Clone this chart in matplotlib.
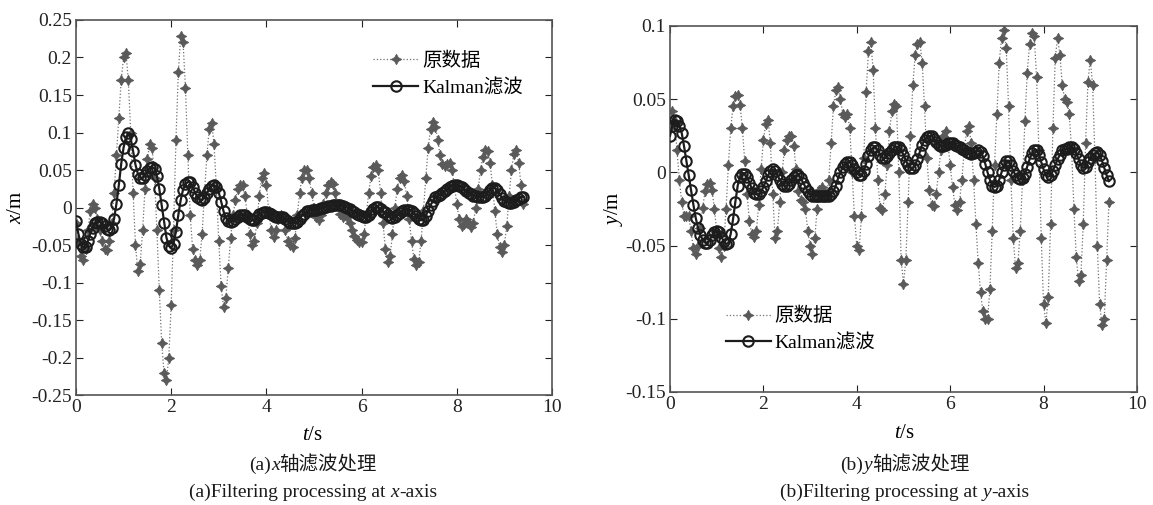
import numpy as np
import matplotlib
matplotlib.use('Agg')
import matplotlib.pyplot as plt
from matplotlib.offsetbox import TextArea, HPacker, AnchoredOffsetbox
from matplotlib.font_manager import FontProperties

plt.rcParams['font.family'] = ['Liberation Serif', 'Noto Sans CJK SC']
plt.rcParams['mathtext.fontset'] = 'custom'
plt.rcParams['mathtext.rm'] = 'Liberation Serif'
plt.rcParams['mathtext.it'] = 'Liberation Serif:italic'
plt.rcParams['axes.unicode_minus'] = False

# ---------------- data (sampled every 0.05 s, t = 0 ... 9.4 s) ----------------
dt = 0.05

x_raw = [
    -0.020, -0.045, -0.065, -0.070, -0.055, -0.030, -0.005, 0.005, 0.000, -0.015,
    -0.030, -0.045, -0.055, -0.057, -0.045, -0.020, 0.020, 0.070, 0.120, 0.170,
    0.200, 0.206, 0.170, 0.100, 0.020, -0.050, -0.085, -0.075, -0.030, 0.025,
    0.065, 0.085, 0.080, 0.040, -0.030, -0.110, -0.180, -0.220, -0.230, -0.200,
    -0.130, -0.030, 0.090, 0.180, 0.228, 0.220, 0.160, 0.070, -0.010, -0.055,
    -0.070, -0.077, -0.070, -0.035, 0.020, 0.070, 0.105, 0.113, 0.085, 0.025,
    -0.045, -0.105, -0.133, -0.120, -0.080, -0.040, -0.010, 0.010, 0.025, 0.030,
    0.030, 0.015, -0.010, -0.035, -0.050, -0.045, -0.020, 0.015, 0.040, 0.046,
    0.030, -0.005, -0.030, -0.039, -0.030, -0.015, -0.010, -0.015, -0.030, -0.045,
    -0.050, -0.052, -0.040, -0.010, 0.020, 0.040, 0.050, 0.050, 0.040, 0.020,
    0.000, -0.012, -0.017, -0.010, 0.005, 0.020, 0.030, 0.034, 0.032, 0.020,
    0.005, -0.008, -0.012, -0.010, -0.012, -0.020, -0.030, -0.038, -0.043, -0.046,
    -0.046, -0.035, -0.010, 0.020, 0.042, 0.054, 0.057, 0.050, 0.020, -0.020,
    -0.055, -0.072, -0.065, -0.035, 0.000, 0.025, 0.040, 0.043, 0.035, 0.015,
    -0.015, -0.045, -0.068, -0.077, -0.072, -0.045, -0.005, 0.040, 0.080, 0.105,
    0.114, 0.108, 0.090, 0.070, 0.058, 0.055, 0.058, 0.059, 0.050, 0.030,
    0.005, -0.015, -0.025, -0.022, -0.015, -0.020, -0.026, -0.020, 0.000, 0.025,
    0.050, 0.068, 0.077, 0.075, 0.060, 0.030, -0.005, -0.035, -0.053, -0.059,
    -0.050, -0.025, 0.015, 0.050, 0.072, 0.077, 0.060, 0.030, 0.005,
]

x_kalman = [
    -0.018, -0.035, -0.048, -0.053, -0.052, -0.045, -0.035, -0.027, -0.021, -0.019,
    -0.019, -0.021, -0.025, -0.029, -0.030, -0.027, -0.015, 0.005, 0.030, 0.058,
    0.080, 0.094, 0.099, 0.092, 0.075, 0.057, 0.045, 0.040, 0.039, 0.043,
    0.049, 0.053, 0.054, 0.052, 0.042, 0.025, 0.003, -0.020, -0.040, -0.051,
    -0.054, -0.048, -0.032, -0.010, 0.010, 0.024, 0.031, 0.034, 0.034, 0.028,
    0.020, 0.014, 0.011, 0.010, 0.013, 0.019, 0.025, 0.029, 0.030, 0.028,
    0.020, 0.008, -0.005, -0.014, -0.018, -0.019, -0.018, -0.015, -0.012, -0.010,
    -0.010, -0.010, -0.012, -0.015, -0.017, -0.016, -0.013, -0.009, -0.007, -0.006,
    -0.006, -0.007, -0.009, -0.011, -0.012, -0.012, -0.012, -0.013, -0.015, -0.018,
    -0.020, -0.021, -0.021, -0.019, -0.015, -0.011, -0.008, -0.005, -0.004, -0.003,
    -0.003, -0.003, -0.002, -0.001, 0.000, 0.001, 0.002, 0.002, 0.003, 0.003,
    0.003, 0.003, 0.002, 0.001, 0.000, -0.002, -0.004, -0.006, -0.008, -0.010,
    -0.011, -0.012, -0.012, -0.010, -0.006, -0.002, 0.001, 0.001, -0.002, -0.006,
    -0.006, -0.010, -0.013, -0.014, -0.013, -0.010, -0.007, -0.005, -0.003, -0.003,
    -0.003, -0.004, -0.007, -0.011, -0.015, -0.017, -0.016, -0.011, -0.004, 0.003,
    0.009, 0.014, 0.016, 0.017, 0.019, 0.022, 0.025, 0.028, 0.029, 0.030,
    0.030, 0.029, 0.027, 0.025, 0.022, 0.020, 0.018, 0.016, 0.015, 0.014,
    0.014, 0.014, 0.016, 0.020, 0.024, 0.026, 0.026, 0.023, 0.018, 0.013,
    0.009, 0.007, 0.006, 0.006, 0.008, 0.010, 0.012, 0.014, 0.014,
]

y_raw = [
    0.030, 0.042, 0.035, 0.015, -0.005, -0.020, -0.030, -0.030, -0.030, -0.040,
    -0.052, -0.056, -0.050, -0.038, -0.024, -0.013, -0.008, -0.007, -0.012, -0.025,
    -0.040, -0.052, -0.058, -0.050, -0.025, 0.005, 0.030, 0.045, 0.052, 0.053,
    0.046, 0.030, 0.008, -0.015, -0.033, -0.042, -0.044, -0.040, -0.022, 0.002,
    0.022, 0.033, 0.036, 0.020, -0.015, -0.045, -0.040, -0.020, 0.000, 0.015,
    0.022, 0.025, 0.025, 0.018, 0.002, -0.013, -0.019, -0.020, -0.025, -0.040,
    -0.050, -0.056, -0.045, -0.025, -0.012, -0.010, -0.013, -0.016, -0.005, 0.020,
    0.045, 0.056, 0.058, 0.050, 0.040, 0.038, 0.040, 0.030, 0.000, -0.030,
    -0.050, -0.053, -0.030, 0.010, 0.055, 0.083, 0.089, 0.070, 0.030, -0.005,
    -0.024, -0.026, -0.015, 0.005, 0.028, 0.042, 0.047, 0.045, 0.000, -0.060,
    -0.076, -0.060, -0.020, 0.025, 0.060, 0.080, 0.088, 0.089, 0.075, 0.045,
    0.010, -0.012, -0.022, -0.023, -0.015, 0.000, 0.015, 0.025, 0.028, 0.020,
    0.005, -0.010, -0.022, -0.026, -0.020, -0.005, 0.015, 0.028, 0.032, 0.020,
    -0.005, -0.035, -0.062, -0.082, -0.095, -0.100, -0.100, -0.080, -0.040, 0.005,
    0.040, 0.075, 0.092, 0.097, 0.085, 0.045, -0.005, -0.045, -0.065, -0.062,
    -0.040, -0.005, 0.035, 0.068, 0.088, 0.095, 0.093, 0.065, 0.015, -0.045,
    -0.090, -0.103, -0.085, -0.035, 0.030, 0.078, 0.092, 0.080, 0.060, 0.050,
    0.048, 0.040, 0.015, -0.025, -0.058, -0.074, -0.070, -0.035, 0.020, 0.062,
    0.077, 0.060, 0.010, -0.050, -0.090, -0.104, -0.100, -0.060, -0.020,
]

y_kalman = [
    0.025, 0.032, 0.036, 0.035, 0.032, 0.027, 0.018, 0.008, -0.002, -0.012,
    -0.022, -0.031, -0.038, -0.043, -0.046, -0.048, -0.048, -0.046, -0.043, -0.041,
    -0.040, -0.041, -0.044, -0.047, -0.049, -0.048, -0.042, -0.032, -0.020, -0.009,
    -0.003, -0.001, -0.001, -0.003, -0.007, -0.011, -0.014, -0.015, -0.015, -0.013,
    -0.010, -0.006, -0.002, 0.001, 0.002, 0.001, -0.002, -0.005, -0.008, -0.009,
    -0.009, -0.008, -0.005, -0.003, -0.002, -0.002, -0.004, -0.007, -0.010, -0.013,
    -0.015, -0.016, -0.016, -0.016, -0.016, -0.016, -0.016, -0.016, -0.016, -0.015,
    -0.013, -0.009, -0.004, 0.000, 0.004, 0.006, 0.007, 0.007, 0.005, 0.002,
    0.000, -0.002, -0.002, 0.001, 0.006, 0.011, 0.015, 0.017, 0.017, 0.015,
    0.012, 0.010, 0.010, 0.011, 0.013, 0.015, 0.017, 0.0175, 0.017, 0.015,
    0.012, 0.008, 0.005, 0.003, 0.003, 0.005, 0.009, 0.014, 0.019, 0.022,
    0.024, 0.025, 0.025, 0.023, 0.021, 0.019, 0.018, 0.018, 0.019, 0.020,
    0.020, 0.020, 0.019, 0.018, 0.017, 0.016, 0.015, 0.014, 0.013, 0.0125,
    0.013, 0.014, 0.015, 0.014, 0.011, 0.006, 0.000, -0.005, -0.009, -0.010,
    -0.009, -0.005, 0.000, 0.005, 0.008, 0.008, 0.005, 0.001, -0.002, -0.004,
    -0.0045, -0.004, -0.001, 0.004, 0.009, 0.013, 0.015, 0.015, 0.012, 0.007,
    0.002, -0.002, -0.003, -0.002, 0.001, 0.005, 0.009, 0.012, 0.015, 0.016,
    0.016, 0.017, 0.017, 0.016, 0.013, 0.009, 0.005, 0.003, 0.004, 0.007,
    0.010, 0.012, 0.013, 0.0136, 0.012, 0.008, 0.003, -0.002, -0.006,
]

x_ticks = [0, 2, 4, 6, 8, 10]
x_yticks = [-0.25, -0.2, -0.15, -0.1, -0.05, 0, 0.05, 0.1, 0.15, 0.2, 0.25]
y_yticks = [-0.15, -0.1, -0.05, 0, 0.05, 0.1]
legend_labels = ['原数据', 'Kalman滤波']

# ---------------- figure ----------------
fig = plt.figure(figsize=(11.53, 5.05), dpi=100)
ax1 = fig.add_axes([0.0659, 0.2178, 0.4128, 0.7426])
ax2 = fig.add_axes([0.5811, 0.2238, 0.4050, 0.7248])

raw_color = '#5a5a5a'
kf_color = '#1c1c1c'
star = (4, 1, 0)
cjk_prop = FontProperties(family=['Liberation Serif', 'Noto Sans CJK SC'], size=14)


def fmt(v):
    return '%g' % v


def draw(ax, raw, kf, yticks, ylim):
    t_raw = np.arange(len(raw)) * dt
    t_kf = np.arange(len(kf)) * dt
    ax.plot(t_raw, raw, linestyle=':', linewidth=0.9, color='#707070',
            marker=star, markersize=7.5, markerfacecolor=raw_color,
            markeredgecolor=raw_color, markeredgewidth=0.6, label=legend_labels[0], zorder=2)
    ax.plot(t_kf, kf, linestyle='-', linewidth=1.6, color=kf_color,
            marker='o', markersize=7.5, markerfacecolor='none',
            markeredgecolor=kf_color, markeredgewidth=1.5, label=legend_labels[1], zorder=3)
    ax.set_xlim(0, 10)
    ax.set_ylim(*ylim)
    ax.set_xticks(x_ticks)
    ax.set_xticklabels([fmt(v) for v in x_ticks])
    ax.set_yticks(yticks)
    ax.set_yticklabels([fmt(v) for v in yticks])
    ax.tick_params(direction='in', top=True, right=True, length=5, width=0.8,
                   labelsize=14, colors='#222222', pad=3)
    for s in ax.spines.values():
        s.set_color('#555555')
        s.set_linewidth(1.2)


draw(ax1, x_raw, x_kalman, x_yticks, (-0.25, 0.25))
draw(ax2, y_raw, y_kalman, y_yticks, (-0.15, 0.1))

ax1.set_ylabel(r'$\mathit{x}$/m', fontsize=15)
ax1.yaxis.set_label_coords(-0.104, 0.5)
ax1.set_xlabel(r'$\mathit{t}$/s', fontsize=15)
ax1.xaxis.set_label_coords(0.496, -0.082)

ax2.set_ylabel(r'$\mathit{y}$/m', fontsize=15)
ax2.yaxis.set_label_coords(-0.097, 0.5)
ax2.set_xlabel(r'$\mathit{t}$/s', fontsize=15)
ax2.xaxis.set_label_coords(0.503, -0.088)

leg_kw = dict(frameon=False, prop=cjk_prop, handlelength=2.3, handletextpad=0.2,
              labelspacing=0.45, borderpad=0, borderaxespad=0, numpoints=1)
ax1.legend(loc='upper left', bbox_to_anchor=(0.625, 0.915), **leg_kw)
ax2.legend(loc='upper left', bbox_to_anchor=(0.12, 0.232), **leg_kw)


def caption(parts, xc, yc):
    boxes = []
    for txt, style, fam in parts:
        boxes.append(TextArea(txt, textprops=dict(fontsize=14, fontstyle=style,
                                                  family=fam, color='#1a1a1a')))
    pack = HPacker(children=boxes, align='baseline', pad=0, sep=0)
    ab = AnchoredOffsetbox(loc='center', child=pack, pad=0, borderpad=0, frameon=False,
                           bbox_to_anchor=(xc, yc), bbox_transform=fig.transFigure)
    fig.add_artist(ab)


serif = ['Liberation Serif', 'Noto Sans CJK SC']
caption([('(a)', 'normal', serif), ('x', 'italic', serif), ('轴滤波处理', 'normal', ['Noto Sans CJK SC'])],
        313 / 1153, 1 - 464 / 505)
caption([('(a)Filtering processing at ', 'normal', serif), ('x', 'italic', serif), ('-axis', 'normal', serif)],
        313 / 1153, 1 - 492 / 505)
caption([('(b)', 'normal', serif), ('y', 'italic', serif), ('轴滤波处理', 'normal', ['Noto Sans CJK SC'])],
        905 / 1153, 1 - 464 / 505)
caption([('(b)Filtering processing at ', 'normal', serif), ('y', 'italic', serif), ('-axis', 'normal', serif)],
        905 / 1153, 1 - 492 / 505)

fig.savefig('out.png', dpi=100)
